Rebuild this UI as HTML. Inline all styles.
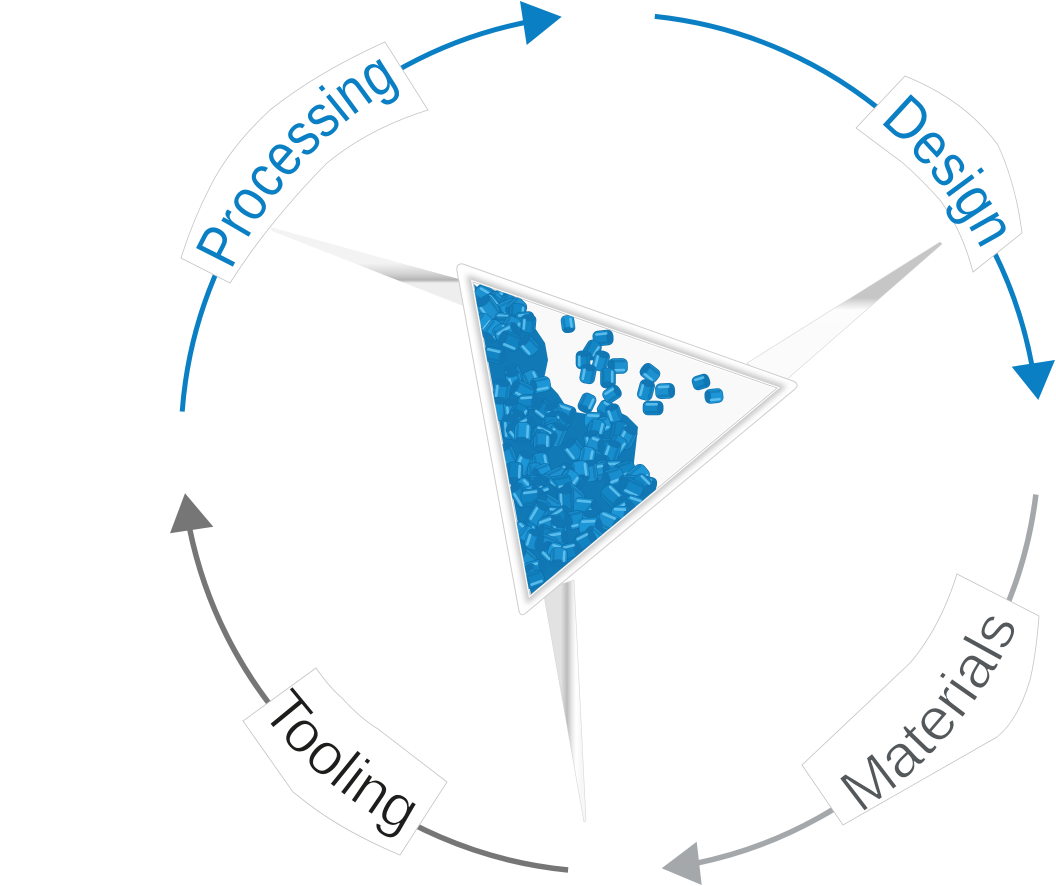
<!DOCTYPE html>
<html>
<head>
<meta charset="utf-8">
<style>
  html,body{margin:0;padding:0;background:#fff;}
  body{width:1056px;height:886px;overflow:hidden;}
  svg{display:block;}
  .lbl{font-family:"Liberation Sans Narrow","Liberation Sans",sans-serif;font-size:60px;}
</style>
</head>
<body>
<svg id="svg" width="1056" height="886" viewBox="0 0 1056 886" xmlns="http://www.w3.org/2000/svg">
  <defs>
    <filter id="blur3" x="-20%" y="-20%" width="140%" height="140%"><feGaussianBlur stdDeviation="3"/></filter>
    <clipPath id="outerClip">
      <polygon points="460,265 797,384 522,617"/>
    </clipPath>
    <clipPath id="innerClip">
      <polygon points="473,282 777,388 530,595"/>
    </clipPath>
    <linearGradient id="gs1" gradientUnits="userSpaceOnUse" x1="400" y1="263" x2="400" y2="283">
      <stop offset="0" stop-color="#f3f3f3"/>
      <stop offset="0.55" stop-color="#d2d2d2"/>
      <stop offset="0.85" stop-color="#b3b3b3"/>
      <stop offset="1" stop-color="#eeeeee"/>
    </linearGradient>
    <linearGradient id="gs2" gradientUnits="userSpaceOnUse" x1="850" y1="298" x2="850" y2="325">
      <stop offset="0" stop-color="#c6c6c6"/>
      <stop offset="0.22" stop-color="#e4e4e4"/>
      <stop offset="0.45" stop-color="#fdfdfd"/>
      <stop offset="1" stop-color="#fbfbfb"/>
    </linearGradient>
    <linearGradient id="gs3" gradientUnits="userSpaceOnUse" x1="561" y1="700" x2="581" y2="700">
      <stop offset="0" stop-color="#e2e2e2"/>
      <stop offset="0.3" stop-color="#bcbcbc"/>
      <stop offset="0.55" stop-color="#e9e9e9"/>
      <stop offset="0.75" stop-color="#ffffff"/>
      <stop offset="1" stop-color="#f7f7f7"/>
    </linearGradient>
    <path id="pProc" d="M231.4,270.5 A416,416 0 0 1 402,82.7"/>
    <path id="pDes" d="M879.3,122 A419,419 0 0 1 983.3,252.8"/>
    <path id="pMat" d="M860,813.6 A447,447 0 0 0 1019.9,621.2"/>
    <path id="pTool" d="M260.1,711.5 A441,441 0 0 0 406.4,834.2"/>
  </defs>

  <!-- Ring arcs -->
  <path d="M182.2,411.6 A429,429 0 0 1 535.5,20.5" fill="none" stroke="#0a7fc4" stroke-width="5"/>
  <polygon points="561.7,16.7 520,1 526.7,45" fill="#0a7fc4"/>

  <path d="M654.8,16.4 A429,429 0 0 1 1031.8,364.8" fill="none" stroke="#0a7fc4" stroke-width="5"/>
  <polygon points="1038.3,400 1011.7,366.7 1055,360" fill="#0a7fc4"/>

  <path d="M1035.9,494.5 A429,429 0 0 1 695.5,863.4" fill="none" stroke="#a5a8aa" stroke-width="5.5"/>
  <polygon points="661.7,868.3 696.7,841.7 701.7,885" fill="#a5a8aa"/>

  <path d="M568.1,870 A429,429 0 0 1 189.6,528.5" fill="none" stroke="#767676" stroke-width="5.5"/>
  <polygon points="185,493.3 170,533.3 213.3,526.7" fill="#767676"/>

  <!-- Label boxes -->
  <path d="M181,258 L230,283 Q250,252 270,227 Q298,192 327,163 Q370,128 428,110 L385,42 Q318,72 270,110 Q230,147 210,187 Q193,220 181,258 Z" fill="#fff" stroke="#c4c4c4" stroke-width="0.8"/>
  <path d="M905,76 Q965,100 998,145 Q1016,185 1022,233 L973,272 Q962,230 940,200 Q922,180 903,163 L856,128 Z" fill="#fff" stroke="#c4c4c4" stroke-width="0.8"/>
  <path d="M957,574 L1039,616 Q1036,655 1030,680 Q1018,720 997,737 L843,825 L802,765 L910,663 Q940,628 957,574 Z" fill="#fff" stroke="#c4c4c4" stroke-width="0.8"/>
  <path d="M316,668 Q330,688 342,698 Q360,718 378,729 L447,782 L400,855 Q345,832 307,803 L293,792 L243,721 Z" fill="#fff" stroke="#c4c4c4" stroke-width="0.8"/>

  <!-- Labels -->
  <text class="lbl" fill="#0a7fc4"><textPath href="#pProc" textLength="255" lengthAdjust="spacingAndGlyphs">Processing</textPath></text>
  <text class="lbl" fill="#0a7fc4"><textPath href="#pDes" textLength="165" lengthAdjust="spacingAndGlyphs">Design</textPath></text>
  <text class="lbl" fill="#54585a" stroke="#fff" stroke-width="1.2"><textPath href="#pMat" textLength="250" lengthAdjust="spacingAndGlyphs">Materials</textPath></text>
  <text class="lbl" fill="#1d1d1b" stroke="#fff" stroke-width="1.2"><textPath href="#pTool" textLength="190" lengthAdjust="spacingAndGlyphs">Tooling</textPath></text>

  <!-- Spokes -->
  <polygon points="270,227 466,281 471,309 272,231" fill="url(#gs1)"/>
  <polygon points="940,242 747,363 777,388 942,244" fill="url(#gs2)" stroke="#d6d6d6" stroke-width="0.6"/>
  <polygon points="543,590 574,580 586,821 584,822" fill="url(#gs3)" stroke="#d6d6d6" stroke-width="0.6"/>

  <!-- Central triangle frame -->
  <path d="M463,264 L793,381 Q800,384 795,389 L527,612 Q521,618 519,611 L457,271 Q456,263 463,264 Z" fill="#fff" stroke="#cdcdcd" stroke-width="1"/>
  <g clip-path="url(#outerClip)">
    <polygon points="473,282 777,388 530,595" fill="none" stroke="#c6c6c6" stroke-width="10" filter="url(#blur3)"/>
  </g>
  <polygon points="473,282 777,388 530,595" fill="#f9f9f9" stroke="#ffffff" stroke-width="3"/>
  <polygon points="473,282 777,388 530,595" fill="none" stroke="#c2c2c2" stroke-width="0.8"/>

  <!-- Pellets -->
  <g clip-path="url(#innerClip)">
    <polygon id="clusterBase" points="478,288 492,292 507,297 520,304 527,313 535,328 545,343 548,360 544,379 558,394 569,411 593,415 613,409 627,416 638,427 636,445 633,471 655,479 656,492 531,595 474,284" fill="#1079b6"/>
    <g id="pellets"></g>
  </g>
</svg>
<script>
(function(){
  var NS='http://www.w3.org/2000/svg';
  var seed=424242;
  function R(){seed|=0;seed=seed+0x6D2B79F5|0;var t=Math.imul(seed^seed>>>15,1|seed);t=t+Math.imul(t^t>>>7,61|t)^t;return((t^t>>>14)>>>0)/4294967296;}
  var poly=[[480,289],[492,293],[507,298],[519,305],[525,314],[533,329],[542,344],[545,360],[541,379],[556,395],[567,410],[593,413],[613,407],[626,414],[635,427],[633,445],[630,470],[651,478],[652,490],[531,593],[476,287]];
  function inside(x,y,p){var c=false;for(var i=0,j=p.length-1;i<p.length;j=i++){var xi=p[i][0],yi=p[i][1],xj=p[j][0],yj=p[j][1];if(((yi>y)!=(yj>y))&&(x<(xj-xi)*(y-yi)/(yj-yi)+xi))c=!c;}return c;}
  var g=document.getElementById('pellets');
  var colors=['#168dcd','#1386c6','#1c96d6','#1283c2','#1d90cf','#188ece'];
  function pellet(cx,cy,ang,L,D){
    var c=colors[Math.floor(R()*colors.length)];
    var e=document.createElementNS(NS,'g');
    e.setAttribute('transform','translate('+cx.toFixed(1)+','+cy.toFixed(1)+') rotate('+ang.toFixed(0)+')');
    var s='';
    s+='<rect x="'+(-L/2)+'" y="'+(-D/2)+'" width="'+L+'" height="'+D+'" rx="'+(D*0.35)+'" fill="'+c+'" stroke="#0d6aa5" stroke-width="0.6"/>';
    s+='<ellipse cx="'+(L/2-D*0.2)+'" cy="0" rx="'+(D*0.24)+'" ry="'+(D/2-0.7)+'" fill="#1177b4"/>';
    s+='<rect x="'+(-L/2+2.5)+'" y="'+(-D/2+2)+'" width="'+(L*0.62)+'" height="2.6" rx="1.2" fill="#6cc8f3" opacity="0.8"/>';
    s+='<rect x="'+(-L/2+2)+'" y="'+(D/2-4)+'" width="'+(L*0.7)+'" height="2.5" rx="1" fill="#0d6ea8" opacity="0.5"/>';
    e.innerHTML=s;
    g.appendChild(e);
  }
  var pts=[];
  var tries=0;
  while(pts.length<140 && tries<20000){
    tries++;
    var x=470+R()*190, y=280+R()*318;
    if(inside(x,y,poly)) pts.push([x,y]);
  }
  var extra=[[568,324,17,13],[603,338,20,15],[592,350,19,15],[583,360,18,14],[601,361,20,15],[618,366,19,15],[588,374,19,15],[608,378,20,15],[612,394,18,14],[587,403,19,15],[650,373,19,15],[646,390,20,15],[665,391,19,15],[653,408,20,14],[701,382,17,14],[714,396,18,14]];
  pts.sort(function(a,b){return a[1]-b[1];});
  for(var i=0;i<pts.length;i++){
    pellet(pts[i][0],pts[i][1],R()*360,18+R()*7,14+R()*4);
  }
  for(var k=0;k<extra.length;k++){
    var p=extra[k];
    pellet(p[0],p[1],R()*360,p[2],p[3]);
  }
})();
</script>
</body>
</html>
